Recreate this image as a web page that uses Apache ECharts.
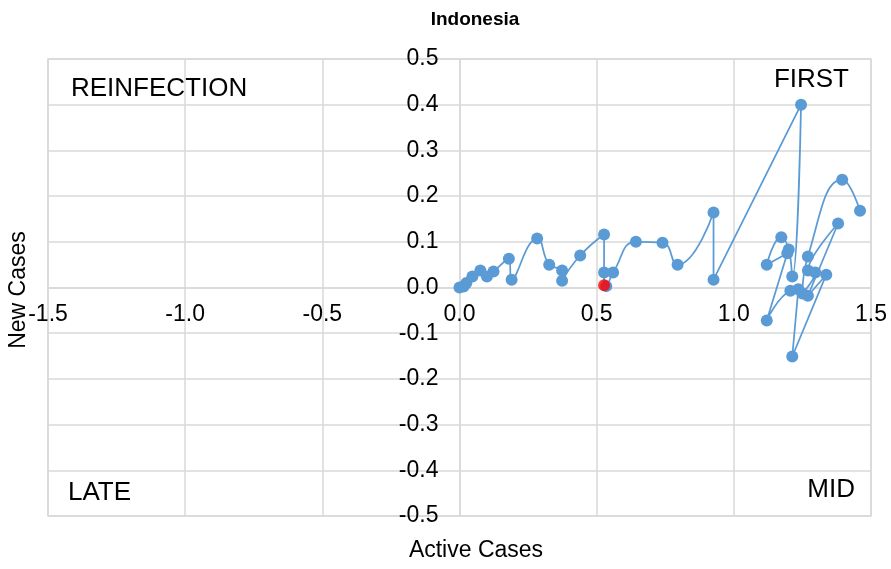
<!DOCTYPE html>
<html>
<head>
<meta charset="utf-8">
<script src="https://cdn.jsdelivr.net/npm/echarts@6/dist/echarts.min.js"></script>
<style>
  html, body { margin: 0; padding: 0; background: #fff; }
  #chart { width: 891px; height: 569px; }
</style>
</head>
<body>
<div id="chart"></div>
<script>
// trajectory points [active, new] in drawing order
const trajectory = [
  [0.0, 0.0], [0.015, 0.002], [0.025, 0.01], [0.047, 0.024], [0.076, 0.037],
  [0.1, 0.024], [0.124, 0.035], [0.18, 0.063], [0.19, 0.017], [0.283, 0.107],
  [0.327, 0.05], [0.374, 0.037], [0.374, 0.015], [0.44, 0.07], [0.527, 0.116],
  [0.527, 0.033], [0.535, 0.003], [0.56, 0.033], [0.643, 0.1], [0.74, 0.098],
  [0.795, 0.05], [0.926, 0.164], [0.926, 0.017], [1.245, 0.4], [1.213, 0.024],
  [1.2, 0.083], [1.173, 0.11], [1.12, 0.05], [1.195, 0.075], [1.12, -0.072],
  [1.206, -0.007], [1.235, -0.004], [1.213, -0.151], [1.337, 0.028], [1.27, -0.018],
  [1.38, 0.14], [1.27, 0.037], [1.297, 0.033], [1.25, -0.013], [1.27, 0.068],
  [1.395, 0.236], [1.46, 0.168]
];
const latest = [[0.527, 0.005]];

const xTicks = { min: -1.5, max: 1.5, step: 0.5 };
const yTicks = { min: -0.5, max: 0.5, step: 0.1 };

const quadrants = [
  { text: 'REINFECTION', x: 71, y: 89, align: 'left' },
  { text: 'FIRST', x: 849, y: 80, align: 'right' },
  { text: 'LATE', x: 68, y: 493, align: 'left' },
  { text: 'MID', x: 855, y: 490, align: 'right' }
];

const GRID = '#d9d9d9';
const BLUE = '#5b9bd5';
const FONT = 'Liberation Sans, Arial, sans-serif';

// plot box: 48..871 x 59..516, axes cross at 0
const plot = { left: 48, right: 20, top: 59, bottom: 53 };
const plotW = 891 - plot.left - plot.right;
const plotH = 569 - plot.top - plot.bottom;

const chart = echarts.init(document.getElementById('chart'), null, { renderer: 'canvas' });

const labelText = (t, x, y, opts = {}) => ({
  type: 'text', x, y,
  style: { text: t, fill: '#000', font: (opts.font || '23px ' + FONT), textAlign: opts.align || 'center', textVerticalAlign: 'middle' },
  rotation: opts.rotation || 0
});

chart.setOption({
  backgroundColor: '#fff',
  animation: false,
  grid: { ...plot, outerBoundsMode: 'none', show: true, borderColor: GRID, borderWidth: 1.5 },
  xAxis: {
    type: 'value', min: xTicks.min, max: xTicks.max, interval: xTicks.step,
    position: 'bottom',
    offset: -plotH * (0 - yTicks.min) / (yTicks.max - yTicks.min),
    axisLine: { onZero: false, lineStyle: { color: GRID, width: 1.5 } },
    axisTick: { show: false },
    axisLabel: { color: '#000', fontSize: 23, fontFamily: FONT, margin: 16, formatter: v => v.toFixed(1) },
    splitLine: { lineStyle: { color: GRID, width: 1.5 } }
  },
  yAxis: {
    type: 'value', min: yTicks.min, max: yTicks.max, interval: yTicks.step,
    position: 'left',
    offset: -plotW * (0 - xTicks.min) / (xTicks.max - xTicks.min),
    axisLine: { onZero: false, lineStyle: { color: GRID, width: 1.5 } },
    axisTick: { show: false },
    axisLabel: { color: '#000', fontSize: 23, fontFamily: FONT, margin: 21, formatter: v => v.toFixed(1) },
    splitLine: { lineStyle: { color: GRID, width: 1.5 } }
  },
  series: [
    { type: 'line', data: trajectory, smooth: 0.5,
      symbol: 'circle', symbolSize: 12,
      lineStyle: { color: BLUE, width: 1.75 },
      itemStyle: { color: BLUE } },
    { type: 'scatter', data: latest, symbol: 'circle', symbolSize: 12,
      itemStyle: { color: '#ff0000' }, z: 5 }
  ],
  graphic: [
    labelText('Indonesia', 475, 20, { font: 'bold 19px ' + FONT }),
    labelText('Active Cases', 476, 551),
    labelText('New Cases', 19, 290, { rotation: Math.PI / 2 }),
    ...quadrants.map(q => labelText(q.text, q.x, q.y, { font: '26px ' + FONT, align: q.align }))
  ]
});
</script>
</body>
</html>
